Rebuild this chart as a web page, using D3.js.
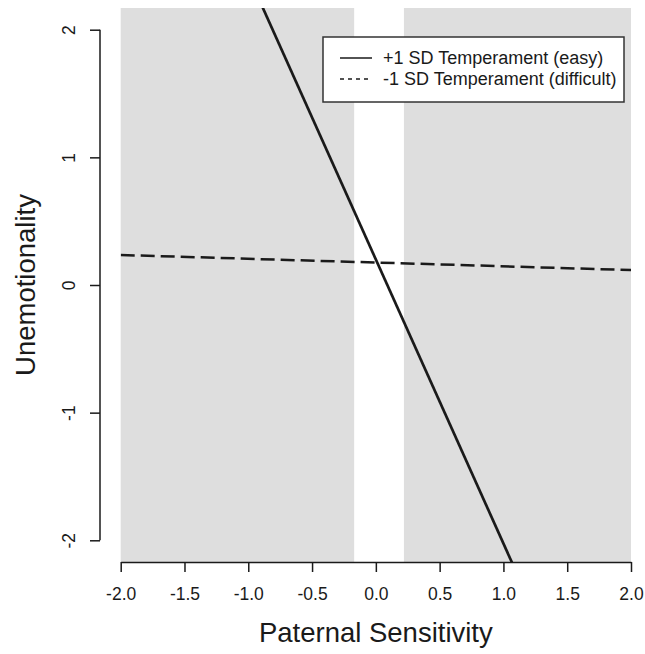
<!DOCTYPE html>
<html>
<head>
<meta charset="utf-8">
<script src="https://cdn.jsdelivr.net/npm/d3@7"></script>
<style>
  body { margin: 0; background: #fff; }
  text { font-family: "Liberation Sans", Arial, sans-serif; fill: #1a1a1a; }
</style>
</head>
<body>
<div id="chart"></div>
<script>
// Simple slopes: unemotionality by paternal sensitivity, at +/-1 SD temperament
const xTicks = [-2.0, -1.5, -1.0, -0.5, 0.0, 0.5, 1.0, 1.5, 2.0];
const yTicks = [-2, -1, 0, 1, 2];
const xEnds = [-2, 2];
const easyValues = [4.65, -4.25];       // +1 SD Temperament (easy)
const difficultValues = [0.235, 0.117]; // -1 SD Temperament (difficult)
const regionsOfSignificance = [[-2, -0.17], [0.22, 2]];
const seriesNames = ["+1 SD Temperament (easy)", "-1 SD Temperament (difficult)"];

const width = 645, height = 654;
const ink = "#1a1a1a";

const svg = d3.select("#chart").append("svg")
  .attr("width", width)
  .attr("height", height);

const x = d3.scaleLinear().domain([-2, 2]).range([120.7, 631]);
const y = d3.scaleLinear().domain([-2.17, 2.17]).range([562, 8]);

// clip to plot region
svg.append("clipPath").attr("id", "plot-clip")
  .append("rect")
  .attr("x", x(-2)).attr("y", y(2.17))
  .attr("width", x(2) - x(-2))
  .attr("height", y(-2.17) - y(2.17));

// shaded regions
svg.selectAll(".region")
  .data(regionsOfSignificance)
  .enter().append("rect")
  .attr("class", "region")
  .attr("x", d => x(d[0]))
  .attr("width", d => x(d[1]) - x(d[0]))
  .attr("y", y(2.17))
  .attr("height", y(-2.17) - y(2.17))
  .attr("fill", "#dedede");

// lines
const line = d3.line()
  .x(d => x(d[0]))
  .y(d => y(d[1]));

const plot = svg.append("g").attr("clip-path", "url(#plot-clip)");

plot.append("path")
  .datum(d3.zip(xEnds, difficultValues))
  .attr("d", line)
  .attr("fill", "none")
  .attr("stroke", ink)
  .attr("stroke-width", 2.5)
  .attr("stroke-dasharray", "14,6");

plot.append("path")
  .datum(d3.zip(xEnds, easyValues))
  .attr("d", line)
  .attr("fill", "none")
  .attr("stroke", ink)
  .attr("stroke-width", 2.7);

// x axis
const xAxis = svg.append("g")
  .attr("transform", `translate(0,${y(-2.17)})`)
  .call(d3.axisBottom(x)
    .tickValues(xTicks)
    .tickFormat(d => d.toFixed(1))
    .tickSize(10)
    .tickSizeOuter(0)
    .tickPadding(16));
xAxis.select(".domain").attr("stroke", ink).attr("stroke-width", 1.5);
xAxis.selectAll(".tick line").attr("stroke", ink).attr("stroke-width", 1.5);
xAxis.selectAll(".tick text")
  .style("font-size", "17.5px")
  .style("font-family", "'Liberation Sans', Arial, sans-serif")
  .attr("fill", "#222");

// y axis (R style: domain only from first to last tick)
const yAxis = svg.append("g")
  .attr("transform", "translate(100,0)")
  .call(d3.axisLeft(y)
    .tickValues(yTicks)
    .tickFormat(d3.format("d"))
    .tickSize(10)
    .tickSizeOuter(0));
yAxis.select(".domain").remove();
yAxis.append("line")
  .attr("x1", 0).attr("x2", 0)
  .attr("y1", y(2)).attr("y2", y(-2))
  .attr("stroke", ink).attr("stroke-width", 1.5);
yAxis.selectAll(".tick line").attr("stroke", ink).attr("stroke-width", 1.5);
yAxis.selectAll(".tick text")
  .text(d => String(d).replace("\u2212", "-"))
  .attr("x", null).attr("dy", null)
  .attr("transform", "translate(-25,0) rotate(-90)")
  .attr("text-anchor", "middle")
  .style("font-size", "17.5px")
  .style("font-family", "'Liberation Sans', Arial, sans-serif")
  .attr("fill", "#222");

// axis titles
svg.append("text")
  .attr("x", (x(-2) + x(2)) / 2)
  .attr("y", 642)
  .attr("text-anchor", "middle")
  .style("font-size", "27.5px")
  .text("Paternal Sensitivity");

svg.append("text")
  .attr("transform", `translate(35,${y(0)}) rotate(-90)`)
  .attr("text-anchor", "middle")
  .style("font-size", "27.5px")
  .text("Unemotionality");

// legend
const legend = svg.append("g");
legend.append("rect")
  .attr("x", 323).attr("y", 37)
  .attr("width", 301).attr("height", 65)
  .attr("fill", "#fff")
  .attr("stroke", "#333")
  .attr("stroke-width", 1.5);

const legendItems = legend.selectAll(".item")
  .data(seriesNames)
  .enter().append("g")
  .attr("class", "item")
  .attr("transform", (d, i) => `translate(0,${58 + i * 21})`);

legendItems.append("line")
  .attr("x1", 340).attr("x2", 372)
  .attr("stroke", ink)
  .attr("stroke-width", 1.5)
  .attr("stroke-dasharray", (d, i) => i === 0 ? null : "4,4");

legendItems.append("text")
  .attr("x", 383)
  .attr("dy", "0.35em")
  .style("font-size", "18px")
  .text(d => d);
</script>
</body>
</html>
